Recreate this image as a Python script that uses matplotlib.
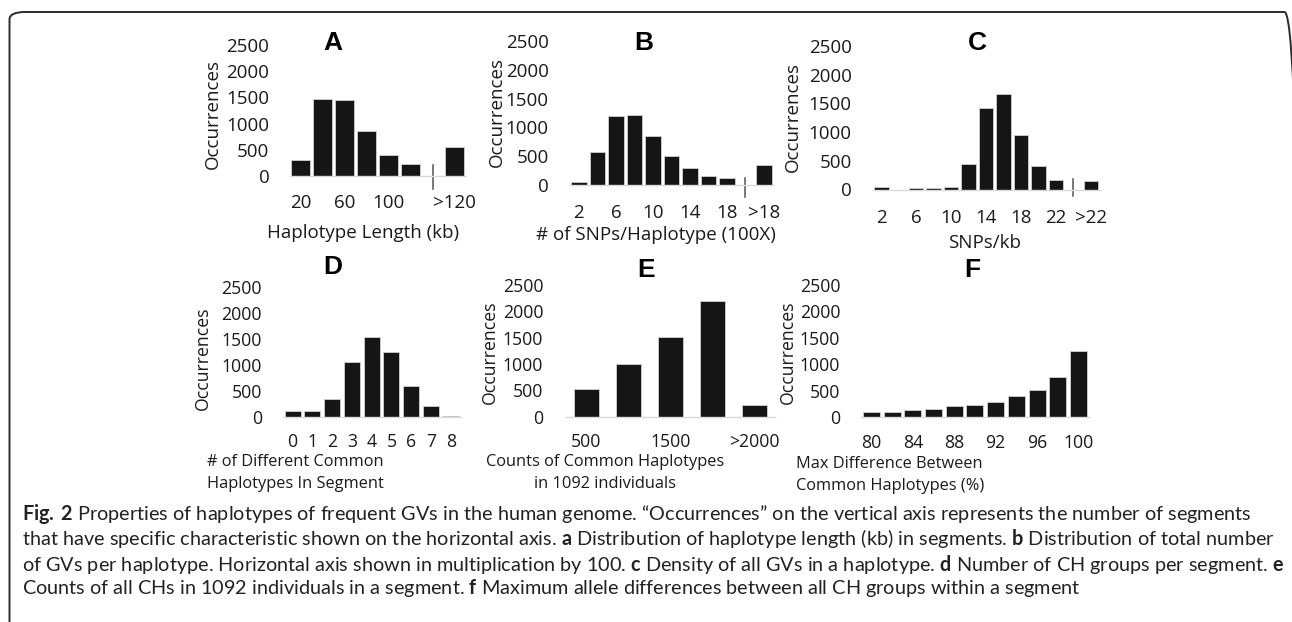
import numpy as np
import matplotlib
matplotlib.use("Agg")
import matplotlib.pyplot as plt
from matplotlib.patches import FancyBboxPatch

plt.rcParams['font.family'] = ['Open Sans', 'DejaVu Sans']
plt.rcParams['mathtext.fontset'] = 'custom'
plt.rcParams['mathtext.rm'] = 'Lato'
plt.rcParams['mathtext.bf'] = 'Lato:bold'

W, H = 1292, 622

# ---- data ----
a_cats = ['20', '40', '60', '80', '100', '120', '', '>120']
a_vals = [300, 1470, 1445, 865, 407, 223, 0, 560]

b_cats = ['2', '4', '6', '8', '10', '12', '14', '16', '18', '', '>18']
b_vals = [60, 570, 1195, 1210, 845, 500, 300, 162, 116, 0, 355]

c_cats = ['2', '4', '6', '8', '10', '12', '14', '16', '18', '20', '22', '', '>22']
c_vals = [40, 0, 25, 25, 50, 450, 1420, 1670, 950, 405, 157, 0, 150]

d_cats = ['0', '1', '2', '3', '4', '5', '6', '7', '8']
d_vals = [115, 115, 346, 1045, 1538, 1250, 590, 212, 15]

e_cats = ['500', '1000', '1500', '2000', '>2000']
e_vals = [518, 1000, 1518, 2202, 228]

f_cats = ['80', '82', '84', '86', '88', '90', '92', '94', '96', '98', '100']
f_vals = [100, 100, 140, 152, 209, 228, 285, 392, 518, 753, 1247]

y_ticks = [0, 500, 1000, 1500, 2000, 2500]

fig = plt.figure(figsize=(W / 100, H / 100), dpi=100)

# rounded frame around the figure
frame = FancyBboxPatch((9.5 / W, -20 / H), (1300 - 9.5) / W, (H - 12 + 20) / H,
                       boxstyle="round,pad=0,rounding_size=0.012",
                       transform=fig.transFigure, fill=False,
                       edgecolor='#2b2b2b', linewidth=1.4)
fig.patches.append(frame)


def panel(box, cats, vals, letter, title_xy, ylab_xy, xlabel, xlab_xy,
          width=0.82, step=2, brk=None, fs=13.5, lfs=13.5, ypad=14.5, xpad=12):
    left, right, base, top = box
    ax = fig.add_axes([left / W, (H - base) / H, (right - left) / W, (base - top) / H])
    x = np.arange(len(cats))
    ax.bar(x, vals, width=width, color='#151515', edgecolor='#d0d0d0', linewidth=0.6)
    ax.set_xlim(-0.5, len(cats) - 0.5)
    ax.set_ylim(0, 2500)
    for s in ['top', 'right', 'left']:
        ax.spines[s].set_visible(False)
    ax.spines['bottom'].set_color('#d9d9d9')
    ax.spines['bottom'].set_linewidth(1.0)
    ax.set_yticks(y_ticks)
    pos = [i for i, c in enumerate(cats) if c and (i % step == 0 or c.startswith('>'))]
    ax.set_xticks(pos, [cats[i] for i in pos])
    ax.tick_params(axis='both', length=0, labelsize=fs, colors='#1a1a1a')
    ax.tick_params(axis='y', pad=ypad)
    ax.tick_params(axis='x', pad=xpad)
    if brk is not None:
        ax.plot([brk[0], brk[0]], [brk[1], brk[2]], color='#555555', lw=1.1, clip_on=False)
    fig.text(title_xy[0] / W, 1 - title_xy[1] / H, letter, fontsize=19, fontweight='bold',
             family='Liberation Sans', ha='center', va='center')
    fig.text(ylab_xy[0] / W, 1 - ylab_xy[1] / H, 'Occurrences', fontsize=fs, rotation=90,
             ha='center', va='center', color='#1a1a1a')
    for line, (lx, ly, ha) in zip(xlabel, xlab_xy):
        fig.text(lx / W, 1 - ly / H, line, fontsize=lfs, ha=ha, va='center', color='#1a1a1a')
    return ax


panel((289.5, 465.5, 176, 45), a_cats, a_vals, 'A', (333, 43), (213, 114),
      ['Haplotype Length (kb)'], [(362.7, 233, 'center')],
      brk=(6, -250, 210), ypad=14.5, xpad=13)
panel((569.6, 773, 185, 41), b_cats, b_vals, 'B', (644, 43), (497, 112),
      ['# of SNPs/Haplotype (100X)'], [(655.5, 235, 'center')],
      width=0.84, brk=(9, -200, 115), ypad=15, xpad=14)
panel((872.6, 1099.5, 189.5, 46), c_cats, c_vals, 'C', (977, 43), (793, 117),
      ['SNPs/kb'], [(985, 243, 'center')],
      width=0.83, brk=(11, -120, 190), ypad=15, xpad=14)
panel((282.8, 460.6, 416.7, 286.7), d_cats, d_vals, 'D', (333, 267), (203, 358),
      ['# of Different Common', 'Haplotypes In Segment'],
      [(207, 462, 'left'), (207, 484, 'left')],
      width=0.81, step=1, fs=12.7, lfs=11.8, ypad=15, xpad=12)
panel((565.5, 775.5, 416.7, 285), e_cats, e_vals, 'E', (646, 270), (490, 352),
      ['Counts of Common Haplotypes', 'in 1092 individuals'],
      [(605, 462, 'center'), (605, 484, 'center')],
      width=0.6, fs=12.7, lfs=11.8, ypad=16, xpad=12)
panel((861, 1088.9, 417, 285), f_cats, f_vals, 'F', (972, 270), (788, 352),
      ['Max Difference Between', 'Common Haplotypes (%)'],
      [(796, 464, 'left'), (796, 486, 'left')],
      width=0.82, fs=12.7, lfs=11.8, ypad=15, xpad=12)

# caption
cap = [
    r"$\bf{Fig.\,2}$ Properties of haplotypes of frequent GVs in the human genome. "
    "\u201cOccurrences\u201d on the vertical axis represents the number of segments",
    r"that have specific characteristic shown on the horizontal axis. $\bf{a}$ Distribution "
    r"of haplotype length (kb) in segments. $\bf{b}$ Distribution of total number",
    r"of GVs per haplotype. Horizontal axis shown in multiplication by 100. $\bf{c}$ Density "
    r"of all GVs in a haplotype. $\bf{d}$ Number of CH groups per segment. $\bf{e}$",
    r"Counts of all CHs in 1092 individuals in a segment. $\bf{f}$ Maximum allele differences "
    r"between all CH groups within a segment",
]
cap_y = [514, 539, 564, 588]

# fit caption size so that line 2 spans the measured width
renderer = fig.canvas.get_renderer()
probe = fig.text(22 / W, 0.5, cap[1], fontsize=10, family='Lato')
wpx = probe.get_window_extent(renderer).width
probe.remove()
cap_fs = 10 * (1273 - 22) / wpx

for line, y in zip(cap, cap_y):
    fig.text(22 / W, 1 - y / H, line, fontsize=cap_fs, family='Lato', ha='left',
             va='center', color='#222222')

fig.savefig('out.png', dpi=100)
